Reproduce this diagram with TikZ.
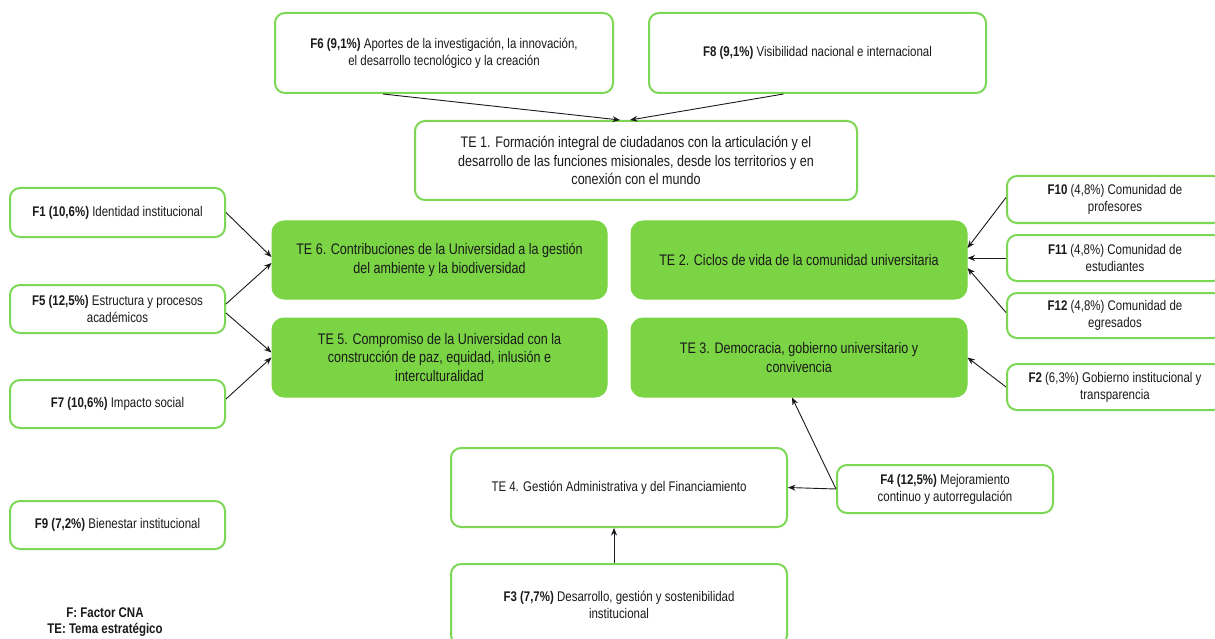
\documentclass[tikz,border=0pt]{standalone}
\usepackage{fontspec}
\setmainfont{Liberation Sans}[FakeStretch=0.82]
\usetikzlibrary{arrows.meta,calc}
\definecolor{tegreen}{RGB}{122,212,68}
\definecolor{bordergreen}{RGB}{124,216,84}
\definecolor{txt}{RGB}{26,26,26}
\newcommand\myF{\fontsize{14}{17}\selectfont}
\newcommand\myT{\fontsize{15.3}{18.5}\selectfont}
\tikzset{
  fbox/.style={draw=bordergreen, line width=2pt, rounded corners=10pt, fill=white,
    align=center, inner sep=0pt, text=txt, font=\myF},
  tebox/.style={draw=tegreen, line width=1pt, rounded corners=12pt, fill=tegreen,
    align=center, inner sep=0pt, text=txt, font=\myT},
  conn/.style={draw=txt, line width=0.9pt, -{Stealth[length=7.5pt,width=6pt]}},
}
\begin{document}
\begin{tikzpicture}[x=1pt,y=-1pt]
\useasboundingbox (0,0) rectangle (1215,639);
\clip (0,0) rectangle (1215,639);
\fill[white] (0,0) rectangle (1215,639);

% top row
\node[fbox, minimum width=338pt, minimum height=80pt] (f6) at (444,53)
  {\textbf{F6 (9,1\%)} Aportes de la investigación, la innovación,\\ el desarrollo tecnológico y la creación};
\node[fbox, minimum width=337pt, minimum height=80pt] (f8) at (817.5,53)
  {\textbf{F8 (9,1\%)} Visibilidad nacional e internacional};
\node[fbox, font=\myT, minimum width=442pt, minimum height=79pt] (te1) at (636,160.5)
  {TE 1. Formación integral de ciudadanos con la articulación y el\\ desarrollo de las funciones misionales, desde los territorios y en\\ conexión con el mundo};

% left column
\node[fbox, minimum width=215pt, minimum height=49pt] (f1) at (117.5,212.5)
  {\textbf{F1 (10,6\%)} Identidad institucional};
\node[fbox, minimum width=215pt, minimum height=48pt] (f5) at (117.5,309)
  {\textbf{F5 (12,5\%)} Estructura y procesos\\ académicos};
\node[fbox, minimum width=215pt, minimum height=48pt] (f7) at (117.5,404)
  {\textbf{F7 (10,6\%)} Impacto social};
\node[fbox, minimum width=215pt, minimum height=48pt] (f9) at (117.5,525)
  {\textbf{F9 (7,2\%)} Bienestar institucional};

% TE green boxes
\node[tebox, minimum width=335pt, minimum height=78pt] (te6) at (439.5,260)
  {TE 6. Contribuciones de la Universidad a la gestión\\ del ambiente y la biodiversidad};
\node[tebox, minimum width=335pt, minimum height=79pt] (te5) at (439.5,357.5)
  {TE 5. Compromiso de la Universidad con la\\ construcción de paz, equidad, inlusión e\\ interculturalidad};
\node[tebox, minimum width=336pt, minimum height=78pt] (te2) at (799,260)
  {TE 2. Ciclos de vida de la comunidad universitaria};
\node[tebox, minimum width=336pt, minimum height=79pt] (te3) at (799,357.5)
  {TE 3. Democracia, gobierno universitario y\\ convivencia};

% right column
\node[fbox, minimum width=216pt, minimum height=47pt] (f10) at (1115,199.5)
  {\textbf{F10} (4,8\%) Comunidad de\\ profesores};
\node[fbox, minimum width=216pt, minimum height=46pt] (f11) at (1115,258)
  {\textbf{F11} (4,8\%) Comunidad de\\ estudiantes};
\node[fbox, minimum width=216pt, minimum height=45pt] (f12) at (1115,315.5)
  {\textbf{F12} (4,8\%) Comunidad de\\ egresados};
\node[fbox, minimum width=216pt, minimum height=46pt] (f2) at (1115,387)
  {\textbf{F2} (6,3\%) Gobierno institucional y\\ transparencia};

% bottom
\node[fbox, minimum width=216pt, minimum height=48pt] (f4) at (945,489)
  {\textbf{F4 (12,5\%)} Mejoramiento\\ continuo y autorregulación};
\node[fbox, minimum width=336pt, minimum height=79pt] (te4) at (619,487.5)
  {TE 4. Gestión Administrativa y del Financiamiento};
\node[fbox, minimum width=336pt, minimum height=81pt] (f3) at (619,604.5)
  {\textbf{F3 (7,7\%)} Desarrollo, gestión y sostenibilidad\\ institucional};

% legend
\node[align=center, inner sep=0pt, text=txt, font=\fontsize{14}{16}\selectfont\bfseries] (legend) at (105,622)
  {F: Factor CNA\\ TE: Tema estratégico};

% connectors
\draw[conn] ($(f6.south)+(-61,0)$) -- ($(te1.north)+(-16,0)$);
\draw[conn] ($(f8.south)+(-34,0)$) -- ($(te1.north)+(-6,0)$);
\draw[conn] (f1.east) -- ($(te6.west)+(0,-3)$);
\draw[conn] ($(f5.east)+(0,-5)$) -- ($(te6.west)+(0,3)$);
\draw[conn] ($(f5.east)+(0,4)$) -- ($(te5.west)+(0,-5)$);
\draw[conn] ($(f7.east)+(0,-5)$) -- (te5.west);
\draw[conn] ($(f10.west)+(0,-2)$) -- ($(te2.east)+(0,-12)$);
\draw[conn] (f11.west) -- ($(te2.east)+(0,-2)$);
\draw[conn] ($(f12.west)+(0,-3)$) -- ($(te2.east)+(0,8)$);
\draw[conn] (f2.west) -- (te3.east);
\draw[conn] (f4.west) -- ($(te3.south)+(-7,0)$);
\draw[conn] (f4.west) -- (te4.east);
\draw[conn] ($(f3.north)+(-5,0)$) -- ($(te4.south)+(-5,0)$);
\end{tikzpicture}
\end{document}
